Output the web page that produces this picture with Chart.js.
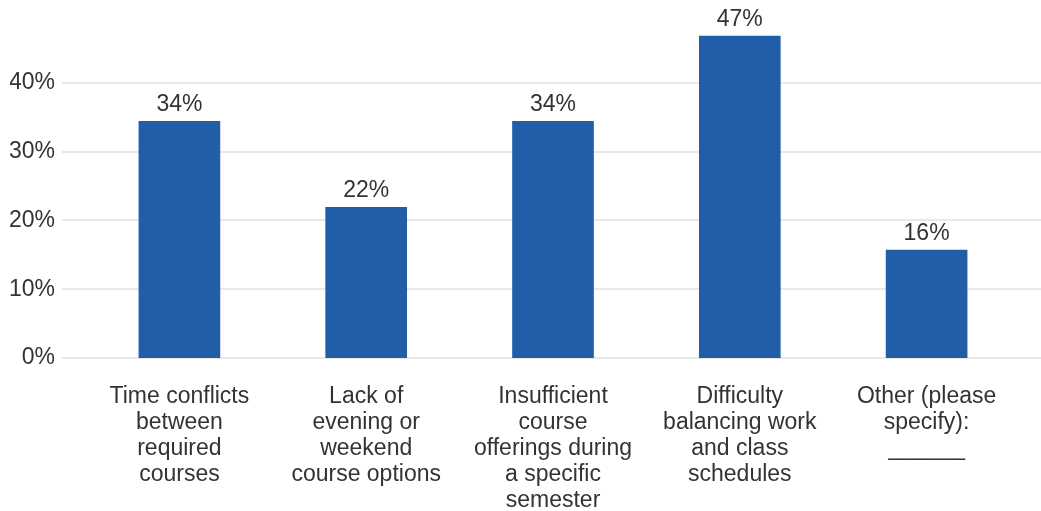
<!DOCTYPE html>
<html>
<head>
<meta charset="utf-8">
<script src="https://cdn.jsdelivr.net/npm/chart.js@4/dist/chart.umd.min.js"></script>
<style>
  html, body { margin: 0; padding: 0; background: #ffffff; }
  #wrap { width: 1041px; height: 511px; }
</style>
</head>
<body>
<div id="wrap"><canvas id="chart" width="1041" height="511"></canvas></div>
<script>
// Barriers to scheduling: share of respondents per reason (%)
const categories = [
  ["Time conflicts", "between", "required", "courses"],
  ["Lack of", "evening or", "weekend", "course options"],
  ["Insufficient", "course", "offerings during", "a specific", "semester"],
  ["Difficulty", "balancing work", "and class", "schedules"],
  ["Other (please", "specify):", "______"]
];
const shares = [34.4, 21.9, 34.4, 46.8, 15.7];
const tickValues = [0, 10, 20, 30, 40];

const FONT = "'Liberation Sans', Arial, Helvetica, sans-serif";
const TEXT = '#333333';

// light horizontal rules spanning the full width at each labelled tick
const gridRules = {
  id: 'gridRules',
  beforeDatasetsDraw(chart) {
    const y = chart.scales.y;
    const ctx = chart.ctx;
    ctx.save();
    ctx.strokeStyle = '#e8e8e8';
    ctx.lineWidth = 2;
    tickValues.forEach(v => {
      const py = Math.round(y.getPixelForValue(v));
      ctx.beginPath();
      ctx.moveTo(62, py);
      ctx.lineTo(chart.width, py);
      ctx.stroke();
    });
    ctx.restore();
  }
};

// percentage written above each bar
const valueLabels = {
  id: 'valueLabels',
  afterDatasetsDraw(chart) {
    const ctx = chart.ctx;
    const meta = chart.getDatasetMeta(0);
    ctx.save();
    ctx.fillStyle = TEXT;
    ctx.font = '23px ' + FONT;
    ctx.textAlign = 'center';
    ctx.textBaseline = 'alphabetic';
    meta.data.forEach((bar, i) => {
      ctx.fillText(Math.round(shares[i]) + '%', bar.x, bar.y - 10);
    });
    ctx.restore();
  }
};

new Chart(document.getElementById('chart'), {
  type: 'bar',
  data: {
    labels: categories,
    datasets: [{
      data: shares,
      backgroundColor: '#225EA8',
      borderWidth: 0,
      barThickness: 81
    }]
  },
  options: {
    responsive: false,
    animation: false,
    devicePixelRatio: 1,
    layout: { padding: { left: 10, right: 21, top: 14, bottom: 0 } },
    plugins: { legend: { display: false }, tooltip: { enabled: false } },
    scales: {
      x: {
        grid: { display: false, drawTicks: false },
        border: { display: false },
        ticks: {
          color: TEXT,
          font: { family: FONT, size: 23, lineHeight: 26 / 23 },
          padding: 26,
          maxRotation: 0,
          autoSkip: false
        },
        afterFit(s) { s.height = 153; }
      },
      y: {
        min: 0,
        max: 50,
        grid: { display: false, drawTicks: false },
        border: { display: false },
        ticks: {
          stepSize: 10,
          color: TEXT,
          font: { family: FONT, size: 23 },
          padding: 31,
          callback: v => (tickValues.includes(v) ? v + '%' : '')
        },
        afterFit(s) { s.width = 76; s.paddingTop = 0; s.paddingBottom = 0; }
      }
    }
  },
  plugins: [gridRules, valueLabels]
});
</script>
</body>
</html>
